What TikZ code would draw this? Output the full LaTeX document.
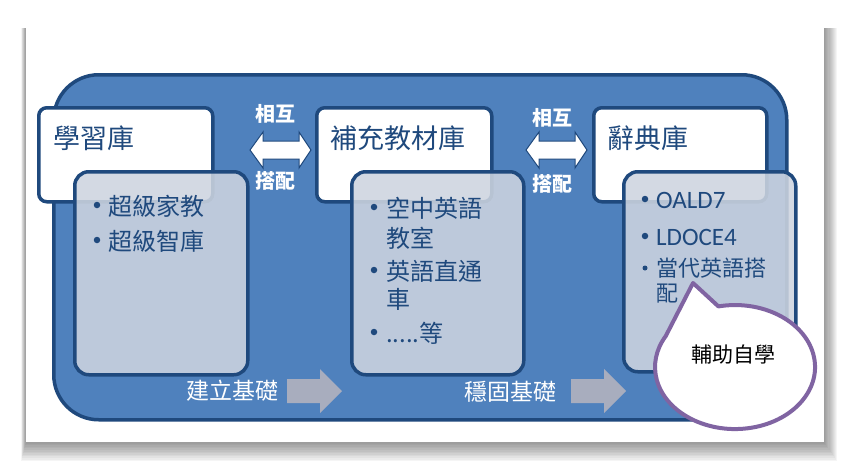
\documentclass[tikz,border=0pt]{standalone}
\usepackage{fontspec}
\setmainfont{Carlito}
\newfontfamily\cjk{Noto Sans CJK TC}
\usetikzlibrary{positioning}
\definecolor{bgblue}{RGB}{79,129,189}
\definecolor{edgeblue}{RGB}{31,73,125}
\definecolor{txtblue}{RGB}{31,73,125}
\definecolor{graybox}{RGB}{205,212,224}
\definecolor{arrowgray}{RGB}{168,173,190}
\definecolor{calloutpurple}{RGB}{128,100,162}
\tikzset{
  titlebox/.style={draw=edgeblue,line width=3.5pt,fill=white,rounded corners=8pt},
  listbox/.style={draw=edgeblue,line width=3.5pt,fill=graybox,fill opacity=0.88,rounded corners=14pt},
  titletext/.style={anchor=west,text=txtblue,font=\cjk\fontsize{27}{30}\selectfont},
  itemtext/.style={anchor=west,text=txtblue,font=\cjk\fontsize{24}{28}\selectfont,inner sep=0pt},
  latintext/.style={anchor=west,text=txtblue,font=\fontsize{25}{28}\selectfont,inner sep=0pt},
  bul/.style={circle,fill=txtblue,inner sep=0pt,minimum size=6.5pt},
  pairlabel/.style={text=white,font=\cjk\bfseries\fontsize{20}{22}\selectfont,inner sep=0pt},
  basetext/.style={text=white,font=\cjk\fontsize{23}{26}\selectfont,inner sep=0pt},
  dblarrow/.style={draw=edgeblue,line width=1pt,fill=white},
  basearrow/.style={fill=arrowgray},
}
\begin{document}
\begin{tikzpicture}[x=1pt,y=-1pt]
\useasboundingbox (0,0) rectangle (850,469);
% card shadow
\foreach \i in {1,...,12}{
  \fill[black,opacity=0.04] (26-\i*0.4,28) rectangle (824+\i*1.1,442+\i*1.6);
}
\fill[white] (26,26) rectangle (824,442);
% main blue panel
\node[draw=edgeblue,line width=3.5pt,fill=bgblue,rounded corners=45pt,minimum width=733pt,minimum height=345pt,anchor=north west] (panel) at (52,73) {};
% title boxes
\node[titlebox,minimum width=174pt,minimum height=94pt,anchor=north west] (b1) at (37,106) {};
\node[titlebox,minimum width=175pt,minimum height=94pt,anchor=north west] (b2) at (315,106) {};
\node[titlebox,minimum width=173pt,minimum height=94pt,anchor=north west] (b3) at (592,106) {};
\node[titletext] (t1) at (50,138) {學習庫};
\node[titletext] (t2) at (327,138) {補充教材庫};
\node[titletext] (t3) at (604,138) {辭典庫};
% list boxes
\node[listbox,minimum width=173pt,minimum height=203pt,anchor=north west] (l1) at (73,170) {};
\node[listbox,minimum width=172pt,minimum height=203pt,anchor=north west] (l2) at (350,170) {};
\node[listbox,minimum width=172pt,minimum height=200pt,anchor=north west] (l3) at (622,170) {};
% list 1
\node[bul] (d11) at (97,205) {};
\node[itemtext] (i11) at (108,206) {超級家教};
\node[bul] (d12) at (97,240) {};
\node[itemtext] (i12) at (108,241) {超級智庫};
% list 2
\node[bul] (d21) at (374,207) {};
\node[itemtext] (i21) at (386,208) {空中英語};
\node[itemtext] (i21b) at (386,238) {教室};
\node[bul] (d22) at (374,270) {};
\node[itemtext] (i22) at (386,271) {英語直通};
\node[itemtext] (i22b) at (386,299) {車};
\node[bul] (d23) at (374,332) {};
\node[itemtext] (i23) at (386,333) {.....等};
% list 3
\node[bul] (d31) at (645,199) {};
\node[latintext] (i31) at (656,200) {OALD7};
\node[bul] (d32) at (645,236) {};
\node[latintext] (i32) at (656,237) {LDOCE4};
\node[bul,minimum size=5pt] (d33) at (645,268) {};
\node[itemtext,font=\cjk\fontsize{22}{26}\selectfont] (i33) at (656,268) {當代英語搭};
\node[itemtext,font=\cjk\fontsize{22}{26}\selectfont] (i33b) at (656,294) {配};
% double arrows
\coordinate (a1) at (280,150);
\draw[dblarrow] ([xshift=-30pt]a1) -- ([xshift=-17pt,yshift=-18pt]a1) -- ([xshift=-17pt,yshift=-9pt]a1) -- ([xshift=19pt,yshift=-9pt]a1) -- ([xshift=19pt,yshift=-18pt]a1) -- ([xshift=31pt]a1) -- ([xshift=19pt,yshift=18pt]a1) -- ([xshift=19pt,yshift=9pt]a1) -- ([xshift=-17pt,yshift=9pt]a1) -- ([xshift=-17pt,yshift=18pt]a1) -- cycle;
\coordinate (a2) at (556,150);
\draw[dblarrow] ([xshift=-30pt]a2) -- ([xshift=-17pt,yshift=-18pt]a2) -- ([xshift=-17pt,yshift=-9pt]a2) -- ([xshift=19pt,yshift=-9pt]a2) -- ([xshift=19pt,yshift=-18pt]a2) -- ([xshift=31pt]a2) -- ([xshift=19pt,yshift=18pt]a2) -- ([xshift=19pt,yshift=9pt]a2) -- ([xshift=-17pt,yshift=9pt]a2) -- ([xshift=-17pt,yshift=18pt]a2) -- cycle;
\node[pairlabel] (p1) at (275,114) {相互};
\node[pairlabel] (q1) at (275,181) {搭配};
\node[pairlabel] (p2) at (552,118) {相互};
\node[pairlabel] (q2) at (552,184) {搭配};
% base arrows
\coordinate (s1) at (287,391);
\fill[basearrow] (s1) ++(0,-12) -- ++(33,0) -- ++(0,-10) -- ++(22,22) -- ++(-22,22) -- ++(0,-10) -- ++(-33,0) -- cycle;
\coordinate (s2) at (571,391);
\fill[basearrow] (s2) ++(0,-12) -- ++(33,0) -- ++(0,-10) -- ++(22,22) -- ++(-22,22) -- ++(0,-10) -- ++(-33,0) -- cycle;
\node[basetext] (bt1) at (232,391) {建立基礎};
\node[basetext] (bt2) at (510,392) {穩固基礎};
% callout
\coordinate (tip) at (693,283);
\draw[draw=calloutpurple,line width=4pt,fill=white,line join=round] (tip) -- (718.4,306.4) arc[start angle=102,end angle=-210,x radius=80pt,y radius=62pt] -- cycle;
\node[font=\cjk\fontsize{21}{24}\selectfont,text=black] (cl) at (733,355) {輔助自學};
\end{tikzpicture}
\end{document}
